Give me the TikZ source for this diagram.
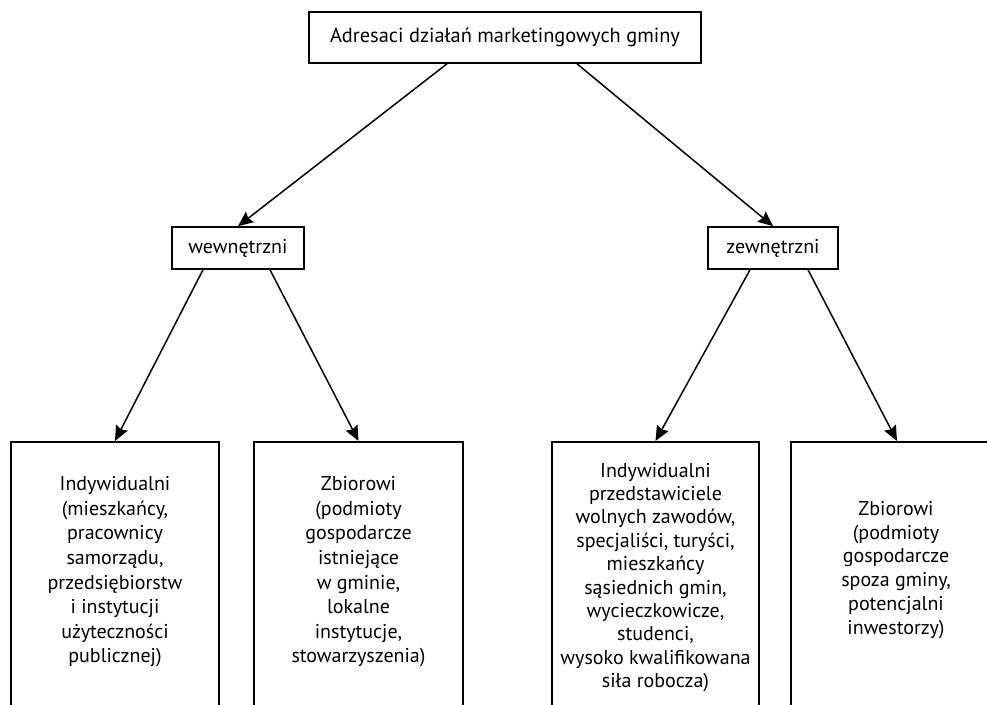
\documentclass[tikz,border=0pt]{standalone}
\usepackage{fontspec}
\setmainfont{PT Sans}
\usetikzlibrary{arrows.meta}
\begin{document}
\begin{tikzpicture}[x=1pt,y=-1pt,
  box/.style={draw=black,line width=1.6pt,fill=white,inner sep=0pt},
  txt/.style={align=center,inner sep=0pt,font=\fontsize{20}{24.6}\selectfont},
  arr/.style={line width=1.5pt,-{Stealth[length=15pt,width=13pt,inset=2pt]}}]
\useasboundingbox (0,0) rectangle (987,704);
\clip (0,0) rectangle (987,704);
\fill[white] (0,0) rectangle (987,704);
\node[box,minimum width=392pt,minimum height=51pt,font=\fontsize{20.4}{24}\selectfont] (top) at (505,37.5) {Adresaci działań marketingowych gminy};
\node[box,minimum width=132pt,minimum height=42pt,font=\fontsize{20}{24}\selectfont] (wew) at (238,248) {wewnętrzni};
\node[box,minimum width=130pt,minimum height=42pt,font=\fontsize{20}{24}\selectfont] (zew) at (773,248) {zewnętrzni};
\node[box,anchor=north,minimum width=208pt,minimum height=330pt] (b1) at (115,441) {};
\node[box,anchor=north,minimum width=209pt,minimum height=330pt] (b2) at (358.5,441) {};
\node[box,anchor=north,minimum width=207pt,minimum height=330pt] (b3) at (655.5,441) {};
\node[box,anchor=north,minimum width=212pt,minimum height=330pt] (b4) at (897,441) {};
\node[txt] (t1) at (115,572) {Indywidualni\\(mieszkańcy,\\pracownicy\\samorządu,\\przedsiębiorstw\\i instytucji\\użyteczności\\publicznej)};
\node[txt] (t2) at (358.5,572) {Zbiorowi\\(podmioty\\gospodarcze\\istniejące\\w gminie,\\lokalne\\instytucje,\\stowarzyszenia)};
\node[txt,font=\fontsize{20}{23.4}\selectfont] (t3) at (655.5,577.5) {Indywidualni\\przedstawiciele\\wolnych zawodów,\\specjaliści, turyści,\\mieszkańcy\\sąsiednich gmin,\\wycieczkowicze,\\studenci,\\wysoko kwalifikowana\\siła robocza)};
\node[txt,font=\fontsize{20}{23.8}\selectfont] (t4) at (896,570) {Zbiorowi\\(podmioty\\gospodarcze\\spoza gminy,\\potencjalni\\inwestorzy)};
\draw[arr] ([xshift=-58pt]top.south) -- (wew.north);
\draw[arr] ([xshift=72pt]top.south) -- (zew.north);
\draw[arr] ([xshift=-35pt]wew.south) -- (b1.north);
\draw[arr] ([xshift=32pt]wew.south) -- (b2.north);
\draw[arr] ([xshift=-23pt]zew.south) -- (b3.north);
\draw[arr] ([xshift=35pt]zew.south) -- (b4.north);
\end{tikzpicture}
\end{document}
